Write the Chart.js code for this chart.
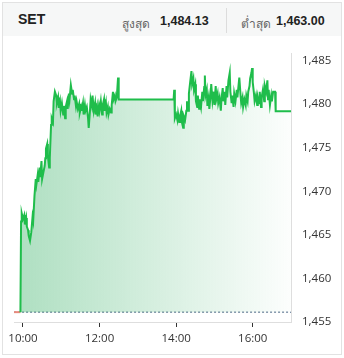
<!DOCTYPE html>
<html>
<head>
<meta charset="utf-8">
<script src="https://cdn.jsdelivr.net/npm/chart.js@4"></script>
<style>
  body { margin: 0; background: #fff; font-family: "Open Sans", "Noto Sans", sans-serif; }
  #card { position: absolute; left: 2px; top: 2px; width: 340px; height: 353px; box-sizing: border-box; border: 1px solid #e2e2e2; }
  #head { position: absolute; left: 3px; top: 3px; width: 338px; height: 33px; background: #f6f7f7; }
  .t { position: absolute; white-space: nowrap; color: #222; }
  #title { left: 18px; top: 11px; font-size: 14px; font-weight: bold; font-family: "Liberation Sans", Arial, sans-serif; }
  .lbl { font-size: 12px; color: #666; top: 14px; }
  .num { font-size: 12.5px; font-weight: bold; top: 14px; font-family: "Liberation Sans", Arial, sans-serif; }
  #sep { position: absolute; left: 226px; top: 8px; width: 1px; height: 25px; background: #dcdcdc; }
  #wrap { position: absolute; left: 3px; top: 36px; width: 338px; height: 317px; }
</style>
</head>
<body>
<div id="card"></div>
<div id="head"></div>
<div class="t" id="title">SET</div>
<div class="t lbl" style="left:122px">สูงสุด</div>
<div class="t num" style="left:160px">1,484.13</div>
<div id="sep"></div>
<div class="t lbl" style="left:241px">ต่ำสุด</div>
<div class="t num" style="left:276px">1,463.00</div>
<div id="wrap"><canvas id="setChart"></canvas></div>
<script>
// minutes after 10:00
const times = [-14, -4, -3, -2, 0, 2, 3, 5, 6, 8, 9, 11, 13, 15, 16, 18, 20, 21, 23, 24, 26, 27, 29, 30, 32, 34, 35, 36, 38, 39, 41, 42,
  44, 45, 47, 48, 50, 52, 53, 55, 56, 58, 59, 61, 63, 64, 66, 67, 69, 70, 72, 73, 75, 77, 78, 80, 81, 83, 84, 86, 88, 89, 91, 92,
  94, 95, 97, 98, 100, 102, 103, 105, 106, 108, 109, 111, 113, 114, 116, 117, 119, 120, 122, 124, 125, 127, 128, 130, 131, 133, 134, 136,
  138, 139, 141, 142, 144, 145, 147, 149, 150, 236, 237, 238, 240, 242, 243, 245, 246, 248, 249, 251, 252, 254, 256, 257, 259, 260,
  262, 264, 265, 267, 268, 270, 271, 273, 274, 276, 277, 279, 281, 282, 284, 285, 286, 288, 289, 291, 292, 294, 295, 297, 299, 300,
  302, 303, 305, 306, 308, 310, 311, 313, 314, 316, 317, 319, 320, 322, 324, 325, 327, 328, 330, 331, 333, 335, 336, 338, 339, 341,
  342, 344, 345, 347, 349, 350, 352, 353, 355, 356, 358, 359, 360, 362, 363, 365, 367, 368, 370, 371, 373, 374, 376, 378, 379, 381,
  383, 384, 385, 387, 389, 390, 392, 395, 396, 420];
const prices = [1456.13, 1456.13, 1466.53, 1467.48, 1466.83, 1467.26, 1466.18, 1466.94, 1465.96, 1465.52, 1464.87, 1464.32, 1465.30, 1467.05, 1466.61, 1469.44,
  1471.40, 1470.75, 1471.84, 1471.07, 1472.71, 1471.62, 1473.47, 1471.40, 1472.16, 1472.92, 1473.79, 1474.88, 1475.43, 1474.01, 1472.71, 1473.79,
  1477.60, 1478.36, 1477.93, 1480.32, 1481.41, 1480.97, 1480.10, 1480.76, 1479.56, 1480.32, 1479.23, 1480.10, 1478.80, 1479.78, 1478.36, 1479.67,
  1480.32, 1479.45, 1481.19, 1480.54, 1482.17, 1481.19, 1481.63, 1480.54, 1480.97, 1479.78, 1480.32, 1479.45, 1480.00, 1479.02, 1479.67, 1479.23,
  1480.10, 1478.80, 1479.89, 1479.23, 1479.67, 1478.36, 1477.27, 1479.23, 1480.54, 1479.78, 1480.97, 1479.23, 1480.10, 1478.80, 1479.67, 1478.58,
  1479.78, 1479.23, 1480.32, 1478.80, 1479.89, 1480.54, 1479.23, 1480.10, 1479.02, 1479.67, 1478.80, 1479.45, 1479.02, 1479.89, 1481.41, 1480.54,
  1480.97, 1480.32, 1480.76, 1483.04, 1480.51, 1480.51, 1481.63, 1478.36, 1478.80, 1478.15, 1478.91, 1477.93, 1478.58, 1479.23, 1477.93, 1477.27,
  1478.58, 1478.15, 1479.23, 1480.32, 1479.23, 1481.19, 1482.50, 1483.77, 1482.28, 1482.93, 1481.63, 1482.28, 1480.32, 1479.67, 1480.97, 1479.45,
  1480.54, 1479.67, 1481.41, 1480.32, 1481.95, 1483.26, 1480.97, 1481.63, 1479.78, 1480.76, 1479.45, 1480.97, 1482.28, 1480.32, 1481.41, 1479.89,
  1482.06, 1480.54, 1481.19, 1480.10, 1480.76, 1479.23, 1480.54, 1481.84, 1480.32, 1481.41, 1479.89, 1482.06, 1480.76, 1482.71, 1483.58, 1481.41,
  1480.10, 1480.97, 1479.67, 1481.19, 1480.32, 1481.63, 1480.76, 1482.28, 1483.04, 1480.97, 1480.10, 1480.76, 1479.67, 1480.54, 1479.89, 1480.97,
  1480.32, 1481.41, 1482.06, 1482.93, 1483.58, 1484.13, 1482.50, 1481.19, 1480.32, 1480.97, 1479.89, 1480.76, 1480.10, 1481.41, 1479.67, 1480.76,
  1481.63, 1480.32, 1482.06, 1481.41, 1482.71, 1480.54, 1481.63, 1479.89, 1480.97, 1480.32, 1481.41, 1481.41, 1479.16, 1479.16];
const prevClose = 1456.13;
const yTicks = [1455, 1460, 1465, 1470, 1475, 1480, 1485];
const xTicks = [0, 120, 240, 360];

const green = '#1fbd4b';
const red = '#e8897c';

const fmtTime = (m) => {
    let h = 10 + Math.floor(m / 60);
    let mm = m % 60;
    return h + ':' + (mm < 10 ? '0' : '') + mm;
};

const ctx = document.getElementById('setChart');

new Chart(ctx, {
    type: 'line',
    data: {
        datasets: [{
            data: times.map((t, i) => ({ x: t, y: prices[i] })),
            borderColor: green,
            borderWidth: 2,
            pointRadius: 0,
            tension: 0,
            fill: { value: prevClose },
            backgroundColor: (c) => {
                const area = c.chart.chartArea;
                if (!area) return 'rgba(40,170,90,0.2)';
                const g = c.chart.ctx.createLinearGradient(area.left, 0, area.right, 0);
                g.addColorStop(0, 'rgba(40,170,90,0.38)');
                g.addColorStop(1, 'rgba(40,170,90,0.01)');
                return g;
            },
            segment: {
                borderColor: (s) => (s.p0.parsed.y <= prevClose && s.p1.parsed.y <= prevClose) ? red : undefined
            }
        }, {
            // previous close
            data: [{ x: times[0], y: prevClose }, { x: times[times.length - 1], y: prevClose }],
            borderColor: '#4a6585',
            borderWidth: 1,
            borderDash: [2, 2],
            pointRadius: 0,
            fill: false
        }]
    },
    options: {
        responsive: true,
        maintainAspectRatio: false,
        animation: false,
        layout: { padding: { left: 10, top: 4, right: 0, bottom: 0 } },
        plugins: { legend: { display: false }, tooltip: { enabled: false } },
        scales: {
            x: {
                type: 'linear',
                min: -14,
                max: 420,
                afterFit: (s) => { s.height = 31; },
                afterBuildTicks: (s) => { s.ticks = xTicks.map(v => ({ value: v })); },
                grid: { drawOnChartArea: false, drawTicks: true, tickLength: 5, tickColor: '#333' },
                border: { color: '#dedede' },
                ticks: {
                    callback: (v) => fmtTime(v),
                    color: '#333',
                    padding: 5,
                    maxRotation: 0,
                    font: { family: 'Open Sans', size: 11.5 }
                }
            },
            y: {
                position: 'right',
                min: 1455,
                max: 1485.75,
                afterFit: (s) => { s.width = 50; },
                afterBuildTicks: (s) => { s.ticks = yTicks.map(v => ({ value: v })); },
                grid: { drawOnChartArea: false, drawTicks: false },
                border: { color: '#dedede' },
                ticks: {
                    callback: (v) => v.toLocaleString('en-US'),
                    color: '#333',
                    padding: 11,
                    font: { family: 'Open Sans', size: 11.5 }
                }
            }
        }
    }
});
</script>
</body>
</html>
